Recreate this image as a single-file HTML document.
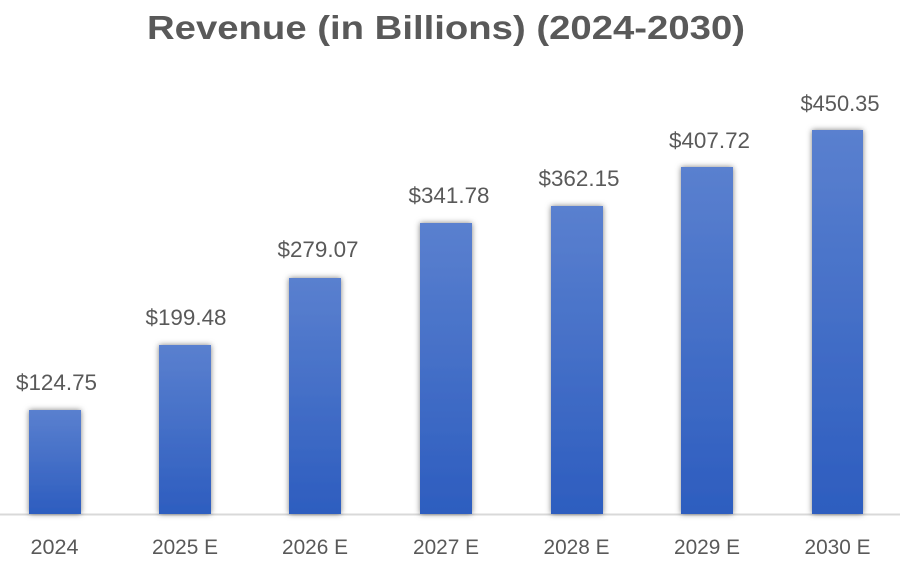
<!DOCTYPE html>
<html>
<head>
<meta charset="utf-8">
<style>
html,body{margin:0;padding:0;background:#fff;}
svg{display:block;}
text{font-family:"Liberation Sans", sans-serif;}
</style>
</head>
<body>
<svg width="900" height="561" viewBox="0 0 900 561" xmlns="http://www.w3.org/2000/svg">
<defs>
<linearGradient id="g" x1="0" y1="0" x2="0" y2="1">
<stop offset="0" stop-color="#5a80cf"/>
<stop offset="1" stop-color="#2d5dbf"/>
</linearGradient>
<filter id="sh" x="-30%" y="-10%" width="160%" height="120%">
<feDropShadow dx="0" dy="0" stdDeviation="3" flood-color="#000" flood-opacity="0.5"/>
</filter>
</defs>
<rect width="900" height="561" fill="#fff"/>
<text x="446" y="39" font-size="33" font-weight="bold" fill="#595959" text-anchor="middle" textLength="598" lengthAdjust="spacingAndGlyphs">Revenue (in Billions) (2024-2030)</text>

<line x1="0" y1="514.5" x2="900" y2="514.5" stroke="#d9d9d9" stroke-width="2"/>

<g filter="url(#sh)" fill="url(#g)">
<rect x="29" y="410" width="52" height="104"/>
<rect x="159" y="345" width="52" height="169"/>
<rect x="289" y="278" width="52" height="236"/>
<rect x="420" y="223" width="52" height="291"/>
<rect x="551" y="206" width="52" height="308"/>
<rect x="681" y="167" width="52" height="347"/>
<rect x="812" y="130" width="51" height="384"/>
</g>

<g font-size="22" fill="#595959" text-anchor="middle">
<text x="56.5" y="390" textLength="81" lengthAdjust="spacingAndGlyphs">$124.75</text>
<text x="186" y="325" textLength="81" lengthAdjust="spacingAndGlyphs">$199.48</text>
<text x="318" y="257" textLength="81" lengthAdjust="spacingAndGlyphs">$279.07</text>
<text x="449" y="203" textLength="81" lengthAdjust="spacingAndGlyphs">$341.78</text>
<text x="579" y="186" textLength="81" lengthAdjust="spacingAndGlyphs">$362.15</text>
<text x="709.5" y="148" textLength="81" lengthAdjust="spacingAndGlyphs">$407.72</text>
<text x="840" y="111" textLength="79" lengthAdjust="spacingAndGlyphs">$450.35</text>
</g>

<g font-size="21" fill="#595959" text-anchor="middle">
<text x="54.5" y="554" textLength="48" lengthAdjust="spacingAndGlyphs">2024</text>
<text x="185" y="554" textLength="66" lengthAdjust="spacingAndGlyphs">2025 E</text>
<text x="315" y="554" textLength="66" lengthAdjust="spacingAndGlyphs">2026 E</text>
<text x="446" y="554" textLength="66" lengthAdjust="spacingAndGlyphs">2027 E</text>
<text x="576.5" y="554" textLength="66" lengthAdjust="spacingAndGlyphs">2028 E</text>
<text x="707" y="554" textLength="66" lengthAdjust="spacingAndGlyphs">2029 E</text>
<text x="837.5" y="554" textLength="66" lengthAdjust="spacingAndGlyphs">2030 E</text>
</g>
</svg>
</body>
</html>
